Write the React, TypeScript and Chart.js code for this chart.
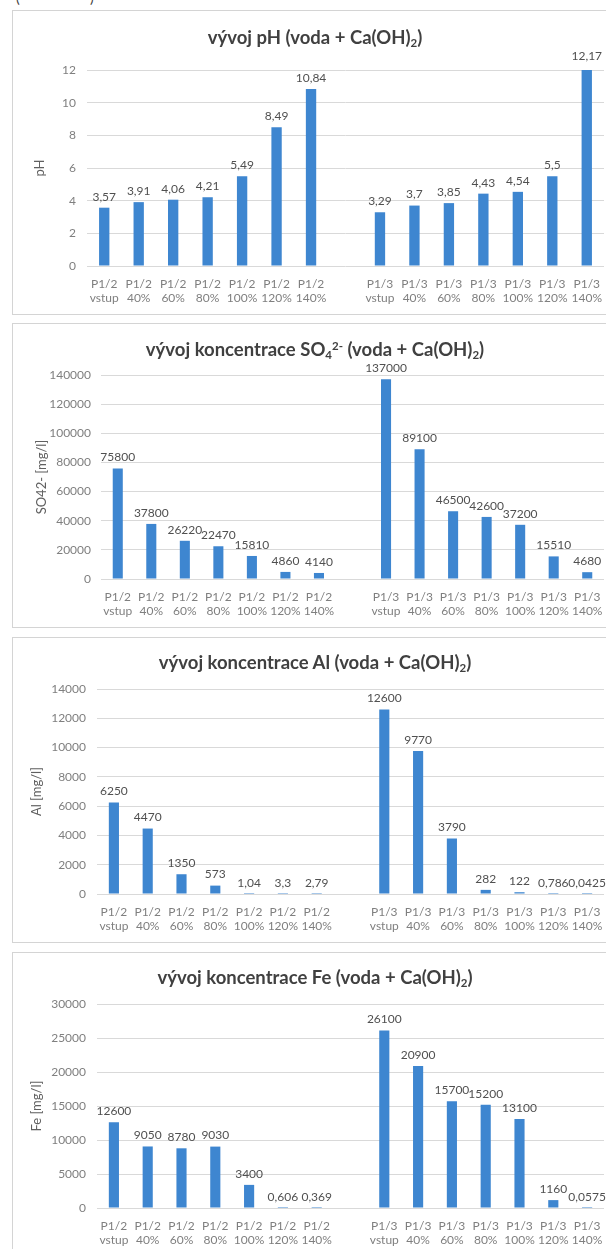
import React, { useEffect, useRef } from 'react';
import { Chart, registerables } from 'chart.js';

Chart.register(...registerables);

// ---------- data ----------
const groupLeft = 'P1/2';
const groupRight = 'P1/3';
const steps = ['vstup', '40%', '60%', '80%', '100%', '120%', '140%'];

const phLeft = [3.57, 3.91, 4.06, 4.21, 5.49, 8.49, 10.84];
const phRight = [3.29, 3.7, 3.85, 4.43, 4.54, 5.5, 12.17];
const phTicks = [0, 2, 4, 6, 8, 10, 12];

const so4Left = [75800, 37800, 26220, 22470, 15810, 4860, 4140];
const so4Right = [137000, 89100, 46500, 42600, 37200, 15510, 4680];
const so4Ticks = [0, 20000, 40000, 60000, 80000, 100000, 120000, 140000];

const alLeft = [6250, 4470, 1350, 573, 1.04, 3.3, 2.79];
const alRight = [12600, 9770, 3790, 282, 122, 0.786, 0.0425];
const alTicks = [0, 2000, 4000, 6000, 8000, 10000, 12000, 14000];

const feLeft = [12600, 9050, 8780, 9030, 3400, 0.606, 0.369];
const feRight = [26100, 20900, 15700, 15200, 13100, 1160, 0.0575];
const feTicks = [0, 5000, 10000, 15000, 20000, 25000, 30000];

// ---------- helpers ----------
const categories: (string | string[])[] = [
  ...steps.map((s) => [groupLeft, s]),
  [''],
  ...steps.map((s) => [groupRight, s]),
];
const joinSeries = (a: number[], b: number[]) => [...a, null, ...b];
const fmt = (v: number) => String(v).replace('.', ',');

const FONT = 'Lato, "Open Sans", sans-serif';
const BAR = '#3e86d0';
const GRID = '#d9d9d9';

const dataLabelPlugin = {
  id: 'dataLabels',
  afterDatasetsDraw(chart: any) {
    const ctx = chart.ctx;
    ctx.save();
    ctx.font = `12px ${FONT}`;
    ctx.fillStyle = '#505050';
    ctx.textAlign = 'center';
    ctx.textBaseline = 'bottom';
    chart.data.datasets.forEach((ds: any, di: number) => {
      const meta = chart.getDatasetMeta(di);
      meta.data.forEach((bar: any, i: number) => {
        const v = ds.data[i];
        if (v === null || v === undefined) return;
        ctx.fillText(fmt(v), bar.x, bar.y - 5);
      });
    });
    ctx.restore();
  },
};

const BOX_LEFT = 12;
const BOX_RIGHT = 618;
const PLOT_RIGHT = 604;

type Cfg = {
  boxTop: number;
  boxBottom: number;
  gridTop: number;
  zeroY: number;
  plotLeft: number;
  tickRight: number;
  yTitle: string;
  yTitleX: number;
  titleY: number;
  title: React.ReactNode;
  values: (number | null)[];
  ticks: number[];
};

function BarPanel({ cfg }: { cfg: Cfg }) {
  const ref = useRef<HTMLCanvasElement | null>(null);
  useEffect(() => {
    if (!ref.current) return;
    const t = cfg.ticks;
    const chart = new Chart(ref.current, {
      type: 'bar',
      data: {
        labels: categories,
        datasets: [
          {
            data: cfg.values,
            backgroundColor: BAR,
            borderWidth: 0,
            barPercentage: 0.3,
            categoryPercentage: 1,
          },
        ],
      },
      options: {
        animation: false,
        responsive: false,
        maintainAspectRatio: false,
        events: [],
        layout: {
          padding: {
            top: cfg.gridTop - cfg.boxTop,
            right: BOX_RIGHT - PLOT_RIGHT,
            bottom: 0,
            left: 0,
          },
        },
        plugins: {
          legend: { display: false },
          tooltip: { enabled: false },
          title: { display: false },
        },
        scales: {
          x: {
            grid: { display: false, drawTicks: false },
            border: { display: false },
            ticks: {
              color: '#7f7f7f',
              font: { family: FONT, size: 12, lineHeight: 1.2 },
              padding: 11,
              maxRotation: 0,
              minRotation: 0,
              autoSkip: false,
            },
            afterFit: (axis: any) => {
              axis.height = cfg.boxBottom - cfg.zeroY;
            },
          },
          y: {
            min: t[0],
            max: t[t.length - 1],
            grid: { color: GRID, lineWidth: 1, drawTicks: false },
            border: { display: false },
            ticks: {
              stepSize: t[1] - t[0],
              color: '#7f7f7f',
              font: { family: FONT, size: 12 },
              padding: cfg.plotLeft - cfg.tickRight,
              callback: (v: any) => String(v),
            },
            title: {
              display: true,
              text: cfg.yTitle,
              color: '#606060',
              font: { family: FONT, size: 13, lineHeight: 1.2 },
              padding: { top: cfg.yTitleX - BOX_LEFT - 7.8, bottom: 0 },
            },
            afterFit: (axis: any) => {
              axis.width = cfg.plotLeft - BOX_LEFT;
            },
          },
        },
      },
      plugins: [dataLabelPlugin],
    });
    return () => chart.destroy();
  }, [cfg]);

  const h = cfg.boxBottom - cfg.boxTop;
  return (
    <>
      <div
        style={{
          position: 'absolute',
          left: BOX_LEFT,
          top: cfg.boxTop,
          width: BOX_RIGHT - BOX_LEFT,
          height: h,
          boxSizing: 'border-box',
          border: '1px solid #d4d4d4',
          background: '#ffffff',
        }}
      />
      <canvas
        ref={ref}
        width={BOX_RIGHT - BOX_LEFT}
        height={h}
        style={{
          position: 'absolute',
          left: BOX_LEFT,
          top: cfg.boxTop,
          width: BOX_RIGHT - BOX_LEFT,
          height: h,
        }}
      />
      <div
        style={{
          position: 'absolute',
          left: BOX_LEFT,
          width: BOX_RIGHT - BOX_LEFT,
          top: cfg.titleY - 13,
          height: 26,
          lineHeight: '26px',
          textAlign: 'center',
          fontFamily: FONT,
          fontSize: 18.5,
          fontWeight: 700,
          color: '#404040',
          whiteSpace: 'nowrap',
        }}
      >
        {cfg.title}
      </div>
    </>
  );
}

const subStyle: React.CSSProperties = { fontSize: '0.62em', verticalAlign: '-0.25em', lineHeight: 0 };
const supStyle: React.CSSProperties = { fontSize: '0.62em', verticalAlign: '0.55em', lineHeight: 0 };

const panels: Cfg[] = [
  {
    boxTop: 10,
    boxBottom: 315,
    gridTop: 70,
    zeroY: 266,
    plotLeft: 87,
    tickRight: 76,
    yTitle: 'pH',
    yTitleX: 40,
    titleY: 37,
    title: (
      <span>
        vývoj pH (voda + Ca(OH)<span style={subStyle}>2</span>)
      </span>
    ),
    values: joinSeries(phLeft, phRight),
    ticks: phTicks,
  },
  {
    boxTop: 323,
    boxBottom: 628,
    gridTop: 375,
    zeroY: 579,
    plotLeft: 101,
    tickRight: 91,
    yTitle: 'SO42- [mg/l]',
    yTitleX: 42,
    titleY: 349,
    title: (
      <span>
        vývoj koncentrace SO<span style={subStyle}>4</span>
        <span style={supStyle}>2-</span> (voda + Ca(OH)<span style={subStyle}>2</span>)
      </span>
    ),
    values: joinSeries(so4Left, so4Right),
    ticks: so4Ticks,
  },
  {
    boxTop: 637,
    boxBottom: 943,
    gridTop: 689,
    zeroY: 894,
    plotLeft: 97,
    tickRight: 86,
    yTitle: 'Al [mg/l]',
    yTitleX: 37,
    titleY: 662,
    title: (
      <span>
        vývoj koncentrace Al (voda + Ca(OH)<span style={subStyle}>2</span>)
      </span>
    ),
    values: joinSeries(alLeft, alRight),
    ticks: alTicks,
  },
  {
    boxTop: 952,
    boxBottom: 1258,
    gridTop: 1004,
    zeroY: 1208,
    plotLeft: 97,
    tickRight: 86,
    yTitle: 'Fe [mg/l]',
    yTitleX: 37,
    titleY: 977,
    title: (
      <span>
        vývoj koncentrace Fe (voda + Ca(OH)<span style={subStyle}>2</span>)
      </span>
    ),
    values: joinSeries(feLeft, feRight),
    ticks: feTicks,
  },
];

export default function App() {
  return (
    <div
      style={{
        position: 'absolute',
        left: 0,
        top: 0,
        width: 606,
        height: 1249,
        overflow: 'hidden',
        background: '#ffffff',
      }}
    >
      <span style={{ position: 'absolute', left: 16, top: -11, fontFamily: FONT, fontSize: 14, color: '#404040' }}>(</span>
      <span style={{ position: 'absolute', left: 90, top: -11, fontFamily: FONT, fontSize: 14, color: '#404040' }}>)</span>
      {panels.map((p, i) => (
        <BarPanel key={i} cfg={p} />
      ))}
    </div>
  );
}
